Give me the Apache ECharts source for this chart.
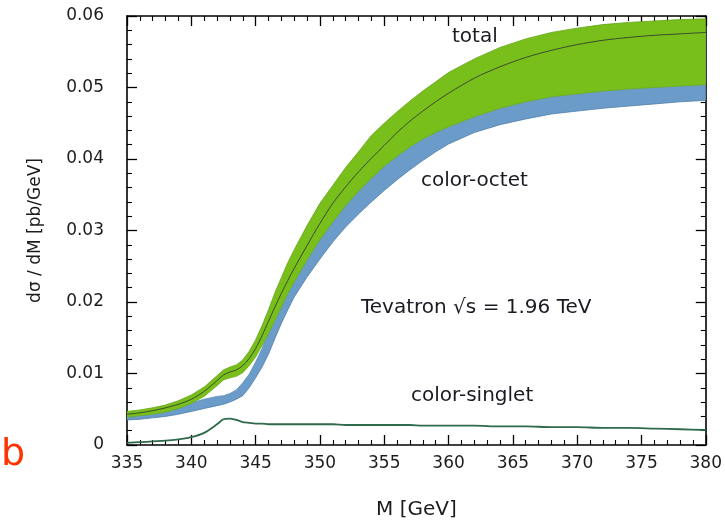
<!DOCTYPE html>
<html><head><meta charset="utf-8">
<script src="https://cdn.jsdelivr.net/npm/echarts@6/dist/echarts.min.js"></script>
<style>html,body{margin:0;padding:0;background:#fff}#c{width:725px;height:525px}</style>
</head><body><div id="c"></div>
<script>
const massGeV = [335,336,337,338,339,340,341,342,342.5,343,343.5,344,344.5,345,345.5,346,346.5,347,347.5,348,349,350,351,352,353,354,355,356,357,358,359,360,362,364,366,368,370,372,374,376,378,380];
const totalUpper = [0.0047,0.0049,0.0052,0.0056,0.0062,0.0070,0.0081,0.0097,0.0105,0.0109,0.0112,0.0119,0.0131,0.0147,0.0167,0.0189,0.0213,0.0234,0.0255,0.0273,0.0307,0.0338,0.0363,0.0388,0.0410,0.0433,0.0450,0.0466,0.0481,0.0495,0.0508,0.0521,0.0540,0.0556,0.0568,0.0577,0.0583,0.0588,0.0591,0.0593,0.0595,0.0596];
const totalCentral = [0.0043,0.0045,0.0048,0.0052,0.0057,0.0064,0.0075,0.0090,0.0098,0.0102,0.0105,0.0111,0.0121,0.0135,0.0153,0.0173,0.0193,0.0212,0.0230,0.0247,0.0279,0.0310,0.0338,0.0361,0.0382,0.0401,0.0419,0.0437,0.0453,0.0467,0.0480,0.0492,0.0513,0.0529,0.0542,0.0552,0.0560,0.0566,0.0570,0.0573,0.0575,0.0577];
const totalLower = [0.0039,0.0041,0.0043,0.0046,0.0051,0.0058,0.0068,0.0083,0.0091,0.0094,0.0096,0.0101,0.0111,0.0123,0.0139,0.0156,0.0174,0.0193,0.0212,0.0228,0.0259,0.0287,0.0312,0.0335,0.0355,0.0373,0.0390,0.0404,0.0417,0.0428,0.0437,0.0445,0.0459,0.0471,0.0480,0.0487,0.0491,0.0495,0.0498,0.0500,0.0502,0.0504];
const octetUpper = [0.0044,0.0045,0.0047,0.0050,0.0054,0.0059,0.0064,0.0068,0.0069,0.0072,0.0077,0.0087,0.0099,0.0116,0.0135,0.0160,0.0184,0.0205,0.0226,0.0244,0.0278,0.0309,0.0335,0.0360,0.0382,0.0402,0.0422,0.0438,0.0453,0.0468,0.0481,0.0494,0.0513,0.0530,0.0542,0.0552,0.0558,0.0564,0.0567,0.0570,0.0573,0.0575];
const octetLower = [0.0035,0.0036,0.0038,0.0040,0.0043,0.0047,0.0051,0.0055,0.0057,0.0060,0.0064,0.0069,0.0080,0.0094,0.0109,0.0127,0.0149,0.0170,0.0189,0.0207,0.0235,0.0260,0.0284,0.0305,0.0323,0.0340,0.0356,0.0371,0.0385,0.0398,0.0410,0.0421,0.0437,0.0448,0.0456,0.0463,0.0467,0.0471,0.0474,0.0477,0.0480,0.0482];
const singlet = [0.0003,0.0004,0.0005,0.0006,0.0008,0.0011,0.0017,0.0029,0.0036,0.0037,0.0035,0.0032,0.0031,0.0030,0.0030,0.0029,0.0029,0.0029,0.0029,0.0029,0.0029,0.0029,0.0029,0.0028,0.0028,0.0028,0.0028,0.0028,0.0028,0.0027,0.0027,0.0027,0.0027,0.0026,0.0026,0.0025,0.0025,0.0024,0.0024,0.0023,0.0022,0.0021];
const xTickValues = [335,340,345,350,355,360,365,370,375,380];
const xTickLabels = ['335','340','345','350','355','360','365','370','375','380'];
const yTickLabels = ['0','0.01','0.02','0.03','0.04','0.05','0.06'];
const labelTexts = {total:'total', octet:'color-octet', singlet:'color-singlet', tev:'Tevatron \u221As = 1.96 TeV', panel:'b'};

const FONT = 'DejaVu Sans';
const pairs = arr => massGeV.map((m, i) => [m, arr[i]]);

const chart = echarts.init(document.getElementById('c'), null, {renderer: 'canvas'});

const axisLine = {show: true, onZero: false, lineStyle: {color: '#000', width: 1.6}};
const tick = {show: true, inside: true, length: 10, lineStyle: {color: '#000', width: 1.3}};
const minor = {show: true, splitNumber: 5, length: 5, lineStyle: {color: '#000', width: 1.1}};

function xAx(pos, showLabel) {
  return {
    type: 'value', position: pos, min: 335, max: 380, interval: 5,
    axisLine, axisTick: tick, minorTick: minor,
    splitLine: {show: false}, minorSplitLine: {show: false},
    axisLabel: {show: showLabel, margin: 10, fontFamily: FONT, fontSize: 17, color: '#1c1c1c',
      formatter: v => { const i = xTickValues.indexOf(Math.round(v)); return i >= 0 ? xTickLabels[i] : ''; }},
    name: showLabel ? 'M [GeV]' : '', nameLocation: 'middle', nameGap: 55,
    nameTextStyle: {fontFamily: FONT, fontSize: 20, color: '#1c1c1c'}
  };
}
function yAx(pos, showLabel) {
  return {
    type: 'value', position: pos, min: 0, max: 0.06, interval: 0.01,
    axisLine, axisTick: tick, minorTick: minor,
    splitLine: {show: false}, minorSplitLine: {show: false},
    axisLabel: {show: showLabel, margin: 23, fontFamily: FONT, fontSize: 17, color: '#1c1c1c',
      formatter: v => { const i = Math.round(v / 0.01); return yTickLabels[i] !== undefined ? yTickLabels[i] : ''; }},
    name: showLabel ? 'd\u03C3 / dM [pb/GeV]' : '', nameLocation: 'middle', nameGap: 83, nameRotate: 90,
    nameTextStyle: {fontFamily: FONT, fontSize: 17, color: '#1c1c1c'}
  };
}

const GREEN = '#79bf1c', BLUE = '#6a9bc9';

function bandSeries(name, upper, lower, fill, upEdge, lowEdge) {
  return {
    name, type: 'custom', coordinateSystem: 'cartesian2d', data: [[massGeV[0], lower[0]]],
    clip: true, silent: true,
    renderItem: (params, api) => {
      const up = massGeV.map((m, i) => api.coord([m, upper[i]]));
      const lo = massGeV.map((m, i) => api.coord([m, lower[i]]));
      const poly = up.concat(lo.slice().reverse());
      return {type: 'group', children: [
        {type: 'polygon', shape: {points: poly, smooth: 0}, style: {fill: fill, stroke: null}},
        {type: 'polyline', shape: {points: up}, style: {stroke: upEdge, lineWidth: 0.8, fill: null}},
        {type: 'polyline', shape: {points: lo}, style: {stroke: lowEdge, lineWidth: 0.8, fill: null}}
      ]};
    }
  };
}

chart.setOption({
  animation: false,
  backgroundColor: '#ffffff',
  grid: {left: 127, right: 19, top: 16, bottom: 77, containLabel: false},
  xAxis: [xAx('bottom', true), xAx('top', false)],
  yAxis: [yAx('left', true), yAx('right', false)],
  series: [
    bandSeries('color-octet', octetUpper, octetLower, BLUE, '#5d8fbd', '#4f7ea8'),
    bandSeries('total band', totalUpper, totalLower, GREEN, '#62a316', '#6cae18'),
    {name: 'total', type: 'line', data: pairs(totalCentral), symbol: 'none', smooth: 0.3,
     lineStyle: {width: 1, color: '#3a4a2c'}, z: 3},
    {name: 'color-singlet', type: 'line', data: pairs(singlet), symbol: 'none', smooth: 0.3,
     lineStyle: {width: 1.8, color: '#2f6a4a'}, z: 3}
  ],
  graphic: [
    {type: 'text', left: 452, top: 27, style: {text: labelTexts.total, font: '20px "DejaVu Sans"', fill: '#1a1a22'}},
    {type: 'text', left: 421, top: 171, style: {text: labelTexts.octet, font: '20px "DejaVu Sans"', fill: '#1a1a22'}},
    {type: 'text', left: 361, top: 298, style: {text: labelTexts.tev, font: '20px "DejaVu Sans"', fill: '#1a1a22'}},
    {type: 'text', left: 411, top: 386, style: {text: labelTexts.singlet, font: '20px "DejaVu Sans"', fill: '#1a1a22'}},
    {type: 'text', left: 1, top: 436, style: {text: labelTexts.panel, font: '38px "DejaVu Sans"', fill: '#ff3300'}}
  ]
});
</script></body></html>
